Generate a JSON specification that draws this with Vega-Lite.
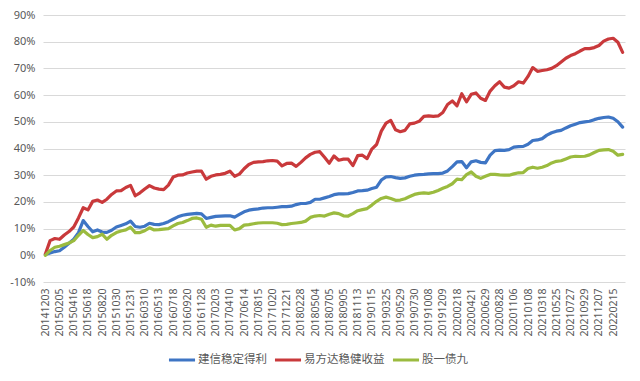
{
  "$schema": "https://vega.github.io/schema/vega-lite/v6.json",
  "width": 582,
  "height": 267,
  "autosize": {"type": "none"},
  "padding": {"left": 43, "top": 15, "right": 15, "bottom": 99},
  "background": "white",
  "data": {"values": [
    {"d":"20141203","建信稳定得利":0.3,"易方达稳健收益":0.5,"股一债九":0},
    {"d":"20141224","建信稳定得利":0.9,"易方达稳健收益":5.5,"股一债九":1.8},
    {"d":"20150115","建信稳定得利":1.4,"易方达稳健收益":6.3,"股一债九":3},
    {"d":"20150205","建信稳定得利":1.7,"易方达稳健收益":6,"股一债九":3.4},
    {"d":"20150303","建信稳定得利":3,"易方达稳健收益":7.6,"股一债九":4},
    {"d":"20150325","建信稳定得利":4.5,"易方达稳健收益":8.9,"股一债九":4.6},
    {"d":"20150416","建信稳定得利":6,"易方达稳健收益":10.6,"股一债九":5.5},
    {"d":"20150507","建信稳定得利":8.5,"易方达稳健收益":14,"股一债九":7.5},
    {"d":"20150528","建信稳定得利":13,"易方达稳健收益":17.8,"股一债九":9.3},
    {"d":"20150618","建信稳定得利":10.8,"易方达稳健收益":17,"股一债九":7.8},
    {"d":"20150709","建信稳定得利":8.8,"易方达稳健收益":20.2,"股一债九":6.6},
    {"d":"20150730","建信稳定得利":9.5,"易方达稳健收益":20.7,"股一债九":7},
    {"d":"20150820","建信稳定得利":8.7,"易方达稳健收益":19.8,"股一债九":7.9},
    {"d":"20150914","建信稳定得利":8.6,"易方达稳健收益":21,"股一债九":6},
    {"d":"20151012","建信稳定得利":9.4,"易方达稳健收益":22.8,"股一债九":7.5},
    {"d":"20151030","建信稳定得利":10.6,"易方达稳健收益":24.1,"股一债九":8.5},
    {"d":"20151120","建信稳定得利":11.2,"易方达稳健收益":24.2,"股一债九":9.1},
    {"d":"20151210","建信稳定得利":11.8,"易方达稳健收益":25.4,"股一债九":9.5},
    {"d":"20151231","建信稳定得利":12.8,"易方达稳健收益":26.2,"股一债九":10.5},
    {"d":"20160122","建信稳定得利":10.8,"易方达稳健收益":22.3,"股一债九":8.5},
    {"d":"20160219","建信稳定得利":10.5,"易方达稳健收益":23.4,"股一债九":8.5},
    {"d":"20160310","建信稳定得利":10.9,"易方达稳健收益":24.8,"股一债九":9.2},
    {"d":"20160331","建信稳定得利":12,"易方达稳健收益":26.1,"股一债九":10.3},
    {"d":"20160422","建信稳定得利":11.6,"易方达稳健收益":25.2,"股一债九":9.5},
    {"d":"20160513","建信稳定得利":11.5,"易方达稳健收益":24.8,"股一债九":9.6},
    {"d":"20160603","建信稳定得利":11.9,"易方达稳健收益":24.6,"股一债九":9.8},
    {"d":"20160627","建信稳定得利":12.6,"易方达稳健收益":26.3,"股一债九":10},
    {"d":"20160718","建信稳定得利":13.5,"易方达稳健收益":29.3,"股一债九":11},
    {"d":"20160808","建信稳定得利":14.4,"易方达稳健收益":30,"股一债九":11.9},
    {"d":"20160829","建信稳定得利":15,"易方达稳健收益":30.1,"股一债九":12.3},
    {"d":"20160920","建信稳定得利":15.3,"易方达稳健收益":30.8,"股一债九":13},
    {"d":"20161018","建信稳定得利":15.5,"易方达稳健收益":31.2,"股一债九":13.8},
    {"d":"20161107","建信稳定得利":15.7,"易方达稳健收益":31.5,"股一债九":14},
    {"d":"20161128","建信稳定得利":15.5,"易方达稳健收益":31.5,"股一债九":13.5},
    {"d":"20161219","建信稳定得利":13.8,"易方达稳健收益":28.5,"股一债九":10.5},
    {"d":"20170111","建信稳定得利":14.2,"易方达稳健收益":29.6,"股一债九":11.3},
    {"d":"20170203","建信稳定得利":14.6,"易方达稳健收益":30.1,"股一债九":10.9},
    {"d":"20170224","建信稳定得利":14.7,"易方达稳健收益":30.3,"股一债九":11.2},
    {"d":"20170317","建信稳定得利":14.8,"易方达稳健收益":30.7,"股一债九":11.2},
    {"d":"20170410","建信稳定得利":14.8,"易方达稳健收益":31.5,"股一债九":11.2},
    {"d":"20170503","建信稳定得利":14.3,"易方达稳健收益":29.6,"股一债九":9.5},
    {"d":"20170524","建信稳定得利":15.3,"易方达稳健收益":30.4,"股一债九":10},
    {"d":"20170614","建信稳定得利":16.3,"易方达稳健收益":32.4,"股一债九":11.3},
    {"d":"20170705","建信稳定得利":16.9,"易方达稳健收益":34,"股一债九":11.5},
    {"d":"20170725","建信稳定得利":17.2,"易方达稳健收益":34.8,"股一债九":11.8},
    {"d":"20170815","建信稳定得利":17.4,"易方达稳健收益":35,"股一债九":12.1},
    {"d":"20170905","建信稳定得利":17.7,"易方达稳健收益":35.1,"股一债九":12.2},
    {"d":"20170926","建信稳定得利":17.8,"易方达稳健收益":35.4,"股一债九":12.2},
    {"d":"20171020","建信稳定得利":17.8,"易方达稳健收益":35.5,"股一债九":12.2},
    {"d":"20171110","建信稳定得利":18,"易方达稳健收益":35.3,"股一债九":12},
    {"d":"20171130","建信稳定得利":18.2,"易方达稳健收益":33.5,"股一债九":11.5},
    {"d":"20171221","建信稳定得利":18.2,"易方达稳健收益":34.4,"股一债九":11.6},
    {"d":"20180115","建信稳定得利":18.4,"易方达稳健收益":34.5,"股一债九":11.9},
    {"d":"20180205","建信稳定得利":19,"易方达稳健收益":33.3,"股一债九":12.1},
    {"d":"20180228","建信稳定得利":19.4,"易方达稳健收益":34.8,"股一债九":12.3},
    {"d":"20180321","建信稳定得利":19.4,"易方达稳健收益":36.5,"股一债九":12.8},
    {"d":"20180412","建信稳定得利":19.8,"易方达稳健收益":37.8,"股一债九":14.2},
    {"d":"20180504","建信稳定得利":21,"易方达稳健收益":38.6,"股一债九":14.7},
    {"d":"20180525","建信稳定得利":21,"易方达稳健收益":38.8,"股一债九":14.9},
    {"d":"20180614","建信稳定得利":21.5,"易方达稳健收益":36.7,"股一债九":14.7},
    {"d":"20180705","建信稳定得利":22,"易方达稳健收益":34.5,"股一债九":15.4},
    {"d":"20180726","建信稳定得利":22.7,"易方达稳健收益":37.2,"股一债九":15.9},
    {"d":"20180815","建信稳定得利":23,"易方达稳健收益":35.6,"股一债九":15.6},
    {"d":"20180905","建信稳定得利":23,"易方达稳健收益":36,"股一债九":14.8},
    {"d":"20180927","建信稳定得利":23.1,"易方达稳健收益":36,"股一债九":14.7},
    {"d":"20181023","建信稳定得利":23.5,"易方达稳健收益":33.6,"股一债九":15.6},
    {"d":"20181113","建信稳定得利":24.1,"易方达稳健收益":37.3,"股一债九":16.7},
    {"d":"20181204","建信稳定得利":24.2,"易方达稳健收益":37.5,"股一债九":17.1},
    {"d":"20181225","建信稳定得利":24.4,"易方达稳健收益":36.2,"股一债九":17.5},
    {"d":"20190115","建信稳定得利":25,"易方达稳健收益":39.8,"股一债九":18.8},
    {"d":"20190205","建信稳定得利":25.5,"易方达稳健收益":41.5,"股一债九":20.2},
    {"d":"20190304","建信稳定得利":28.2,"易方达稳健收益":46.5,"股一债九":21.3},
    {"d":"20190325","建信稳定得利":29.4,"易方达稳健收益":49.5,"股一债九":21.8},
    {"d":"20190416","建信稳定得利":29.5,"易方达稳健收益":50.5,"股一债九":21.3},
    {"d":"20190509","建信稳定得利":29.1,"易方达稳健收益":47,"股一债九":20.6},
    {"d":"20190529","建信稳定得利":28.8,"易方达稳健收益":46.3,"股一债九":20.7},
    {"d":"20190620","建信稳定得利":29,"易方达稳健收益":46.8,"股一债九":21.2},
    {"d":"20190710","建信稳定得利":29.6,"易方达稳健收益":49.2,"股一债九":22},
    {"d":"20190730","建信稳定得利":30,"易方达稳健收益":49.5,"股一债九":22.8},
    {"d":"20190820","建信稳定得利":30.2,"易方达稳健收益":50.2,"股一债九":23.2},
    {"d":"20190910","建信稳定得利":30.3,"易方达稳健收益":52,"股一债九":23.4},
    {"d":"20191008","建信稳定得利":30.5,"易方达稳健收益":52.2,"股一债九":23.2},
    {"d":"20191029","建信稳定得利":30.6,"易方达稳健收益":52,"股一债九":23.6},
    {"d":"20191119","建信稳定得利":30.6,"易方达稳健收益":52.2,"股一债九":24.3},
    {"d":"20191209","建信稳定得利":30.8,"易方达稳健收益":53.5,"股一债九":25.1},
    {"d":"20191230","建信稳定得利":31.6,"易方达稳健收益":56.5,"股一债九":25.8},
    {"d":"20200121","建信稳定得利":33.2,"易方达稳健收益":57.8,"股一债九":26.8},
    {"d":"20200218","建信稳定得利":35,"易方达稳健收益":56,"股一债九":28.5},
    {"d":"20200310","建信稳定得利":35.1,"易方达稳健收益":60.5,"股一债九":28.3},
    {"d":"20200331","建信稳定得利":32.8,"易方达稳健收益":57.5,"股一债九":30.2},
    {"d":"20200421","建信稳定得利":35,"易方达稳健收益":60.3,"股一债九":31.2},
    {"d":"20200515","建信稳定得利":35.4,"易方达稳健收益":60.8,"股一债九":29.6},
    {"d":"20200605","建信稳定得利":34.8,"易方达稳健收益":58.8,"股一债九":28.8},
    {"d":"20200629","建信稳定得利":34.6,"易方达稳健收益":58,"股一债九":29.6},
    {"d":"20200720","建信稳定得利":37.5,"易方达稳健收益":61.5,"股一债九":30.3},
    {"d":"20200807","建信稳定得利":39.2,"易方达稳健收益":63.5,"股一债九":30.3},
    {"d":"20200828","建信稳定得利":39.4,"易方达稳健收益":65,"股一债九":30.1},
    {"d":"20200918","建信稳定得利":39.3,"易方达稳健收益":63,"股一债九":30},
    {"d":"20201016","建信稳定得利":39.6,"易方达稳健收益":62.6,"股一债九":30},
    {"d":"20201106","建信稳定得利":40.5,"易方达稳健收益":63.5,"股一债九":30.5},
    {"d":"20201127","建信稳定得利":40.7,"易方达稳健收益":65,"股一债九":30.9},
    {"d":"20201218","建信稳定得利":40.8,"易方达稳健收益":64.5,"股一债九":31},
    {"d":"20210108","建信稳定得利":41.6,"易方达稳健收益":67,"股一债九":32.5},
    {"d":"20210129","建信稳定得利":43,"易方达稳健收益":70.3,"股一债九":33},
    {"d":"20210226","建信稳定得利":43.2,"易方达稳健收益":68.9,"股一债九":32.6},
    {"d":"20210318","建信稳定得利":43.7,"易方达稳健收益":69.2,"股一债九":33},
    {"d":"20210409","建信稳定得利":45,"易方达稳健收益":69.5,"股一债九":33.6},
    {"d":"20210506","建信稳定得利":45.9,"易方达稳健收益":70,"股一债九":34.6},
    {"d":"20210525","建信稳定得利":46.5,"易方达稳健收益":71,"股一债九":35.2},
    {"d":"20210615","建信稳定得利":46.8,"易方达稳健收益":72.4,"股一债九":35.4},
    {"d":"20210706","建信稳定得利":47.7,"易方达稳健收益":73.8,"股一债九":36.1},
    {"d":"20210727","建信稳定得利":48.5,"易方达稳健收益":74.8,"股一债九":36.8},
    {"d":"20210817","建信稳定得利":49.1,"易方达稳健收益":75.5,"股一债九":37.1},
    {"d":"20210907","建信稳定得利":49.7,"易方达稳健收益":76.5,"股一债九":37},
    {"d":"20210929","建信稳定得利":50,"易方达稳健收益":77.4,"股一债九":37.1},
    {"d":"20211027","建信稳定得利":50.2,"易方达稳健收益":77.4,"股一债九":37.6},
    {"d":"20211117","建信稳定得利":50.8,"易方达稳健收益":77.8,"股一债九":38.5},
    {"d":"20211207","建信稳定得利":51.3,"易方达稳健收益":78.6,"股一债九":39.3},
    {"d":"20211228","建信稳定得利":51.6,"易方达稳健收益":80.2,"股一债九":39.5},
    {"d":"20220119","建信稳定得利":51.8,"易方达稳健收益":81,"股一债九":39.6},
    {"d":"20220215","建信稳定得利":51.3,"易方达稳健收益":81.3,"股一债九":39},
    {"d":"20220308","建信稳定得利":50,"易方达稳健收益":79.8,"股一债九":37.5},
    {"d":"20220325","建信稳定得利":48,"易方达稳健收益":76,"股一债九":37.8}
  ]},
  "transform": [
    {"fold": ["建信稳定得利", "易方达稳健收益", "股一债九"], "as": ["series", "value"]}
  ],
  "mark": {"type": "line", "strokeWidth": 3.2, "strokeJoin": "round", "strokeCap": "round"},
  "encoding": {
    "x": {
      "field": "d",
      "type": "ordinal",
      "sort": "ascending",
      "scale": {"type": "point", "padding": 0.5},
      "axis": {
        "title": null,
        "values": ["20141203","20150205","20150416","20150618","20150820","20151030","20151231","20160310","20160513","20160718","20160920","20161128","20170203","20170410","20170614","20170815","20171020","20171221","20180228","20180504","20180705","20180905","20181113","20190115","20190325","20190529","20190730","20191008","20191209","20200218","20200421","20200629","20200828","20201106","20210108","20210318","20210525","20210727","20210929","20211207","20220215"],
        "labelAngle": 270,
        "labelAlign": "right",
        "labelBaseline": "middle",
        "labelFont": "Noto Sans",
        "labelFontSize": 10.5,
        "labelColor": "#595959",
        "labelPadding": 6,
        "labelOverlap": false,
        "domain": false,
        "ticks": false,
        "grid": false
      }
    },
    "y": {
      "field": "value",
      "type": "quantitative",
      "scale": {"domain": [-10, 90], "nice": false, "zero": false},
      "axis": {
        "title": null,
        "values": [-10, 0, 10, 20, 30, 40, 50, 60, 70, 80, 90],
        "labelExpr": "datum.value + '%'",
        "labelFont": "Noto Sans",
        "labelFontSize": 11,
        "labelColor": "#595959",
        "labelPadding": 8,
        "domain": false,
        "ticks": false,
        "grid": true,
        "gridColor": "#D9D9D9",
        "gridWidth": 1
      }
    },
    "color": {
      "field": "series",
      "type": "nominal",
      "scale": {
        "domain": ["建信稳定得利", "易方达稳健收益", "股一债九"],
        "range": ["#3E75C4", "#C9393B", "#9BBB3F"]
      },
      "legend": {
        "title": null,
        "orient": "none",
        "legendX": 124,
        "legendY": 330,
        "direction": "horizontal",
        "symbolType": "stroke",
        "symbolSize": 680,
        "symbolStrokeWidth": 3,
        "labelFont": "Noto Sans CJK SC",
        "labelFontSize": 11.5,
        "labelColor": "#595959",
        "columnPadding": 1,
        "labelOffset": 1
      }
    }
  },
  "config": {"view": {"stroke": null}}
}
